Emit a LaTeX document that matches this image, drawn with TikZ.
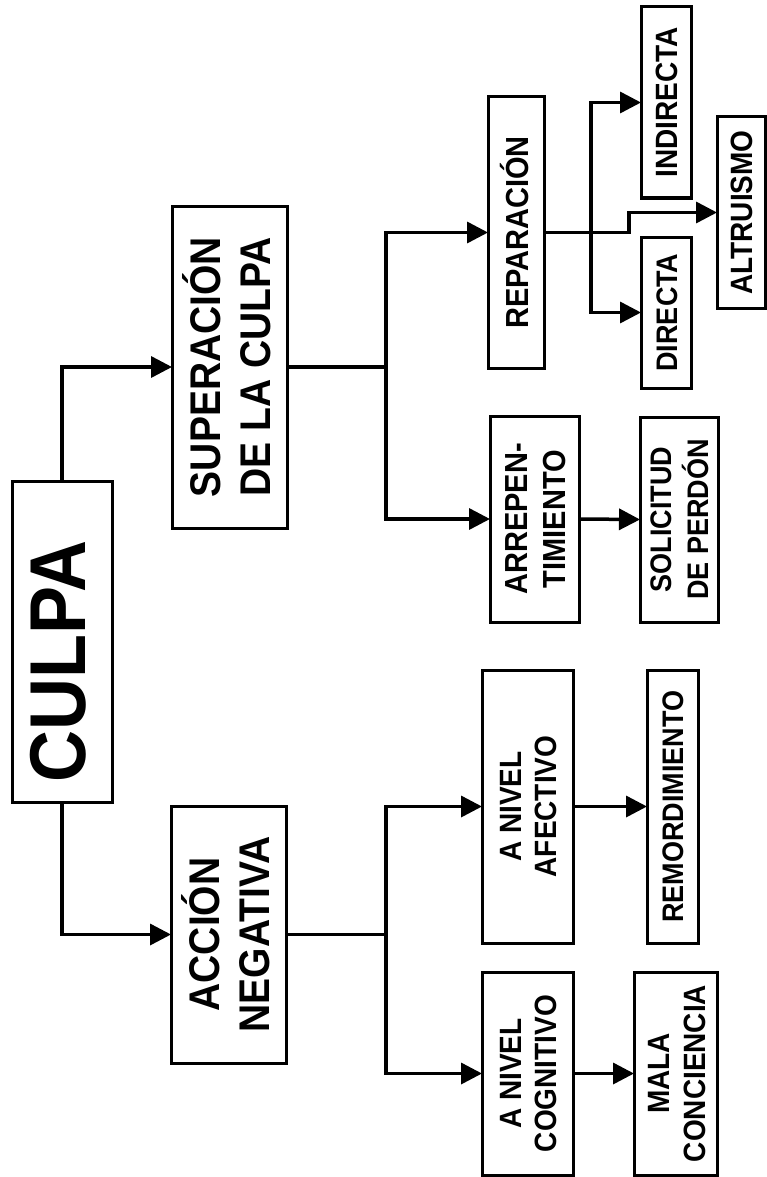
\documentclass[tikz,border=0pt]{standalone}
\usepackage{fontspec}
\usepackage{graphicx}
\setmainfont{Liberation Sans}
\usetikzlibrary{arrows.meta}
\newcommand{\vtext}[3]{\rotatebox{90}{\scalebox{1}[1.1]{\fontsize{#1}{#2}\selectfont\bfseries\raisebox{-4pt}[\height][\depth]{\begin{tabular}{@{}c@{}}#3\end{tabular}}}}}
\tikzset{
  box/.style={draw, line width=3pt, fill=white, inner sep=0pt, outer sep=0pt, rectangle},
  conn/.style={line width=3.5pt},
  arr/.style={line width=3.5pt, -{Triangle[length=21pt,width=21pt]}}
}
\begin{document}
\begin{tikzpicture}[x=1pt,y=-1pt]
\useasboundingbox (0,0) rectangle (767,1177);
% boxes
\node[box, minimum width=100pt, minimum height=321pt] (culpa) at (62,641.5) {\vtext{72}{86}{CULPA\kern40pt}};
\node[box, minimum width=115pt, minimum height=322pt] (sup) at (229.5,367) {\vtext{39}{45}{SUPERACIÓN\\DE LA CULPA}};
\node[box, minimum width=115pt, minimum height=257pt] (acc) at (228.5,934.5) {\vtext{39}{45}{ACCIÓN\\NEGATIVA}};
\node[box, minimum width=56pt, minimum height=271pt] (rep) at (516,232.5) {\vtext{29}{34}{REPARACIÓN}};
\node[box, minimum width=89pt, minimum height=206pt] (arr) at (534.5,519) {\vtext{29}{34}{ARREPEN-\\TIMIENTO}};
\node[box, minimum width=78pt, minimum height=205pt] (sol) at (679,519.5) {\vtext{27}{31}{SOLICITUD\\DE PERDÓN}};
\node[box, minimum width=91pt, minimum height=273pt] (an1) at (527.5,806.5) {\vtext{28}{32}{A NIVEL\\AFECTIVO}};
\node[box, minimum width=51pt, minimum height=273pt] (rem) at (672.5,806.5) {\vtext{27}{31}{REMORDIMIENTO}};
\node[box, minimum width=91pt, minimum height=203pt] (an2) at (527.5,1073.5) {\vtext{28}{32}{A NIVEL\\COGNITIVO}};
\node[box, minimum width=83pt, minimum height=203pt] (mala) at (675.5,1073.5) {\vtext{28}{33}{MALA\\CONCIENCIA}};
\node[box, minimum width=50pt, minimum height=191pt] (ind) at (666,102.5) {\vtext{28}{32}{INDIRECTA}};
\node[box, minimum width=50pt, minimum height=151pt] (dir) at (666,312.5) {\vtext{27}{31}{DIRECTA}};
\node[box, minimum width=48pt, minimum height=191pt] (alt) at (741,212.5) {\vtext{28}{32}{ALTRUISMO}};
% junctions
\coordinate (j1) at (386,367);
\coordinate (j2) at (386,934.5);
\coordinate (j3) at (591,232.5);
\coordinate (j4) at (629,232.5);
% connectors
\draw[arr] (culpa.north) |- (sup.west);
\draw[arr] (culpa.south) |- (acc.west);
\draw[conn] (sup.east) -- (j1);
\draw[arr] (j1) |- (rep.west);
\draw[arr] (j1) |- (arr.west);
\draw[conn] (acc.east) -- (j2);
\draw[arr] (j2) |- (an1.west);
\draw[arr] (j2) |- (an2.west);
\draw[arr] (arr.east) -- (sol.west);
\draw[arr] (an1.east) -- (rem.west);
\draw[arr] (an2.east) -- (mala.west);
\draw[arr] (j3) |- (ind.west);
\draw[arr] (j3) |- (dir.west);
\draw[arr] (rep.east) -- (j4) |- (alt.west);
\end{tikzpicture}
\end{document}
